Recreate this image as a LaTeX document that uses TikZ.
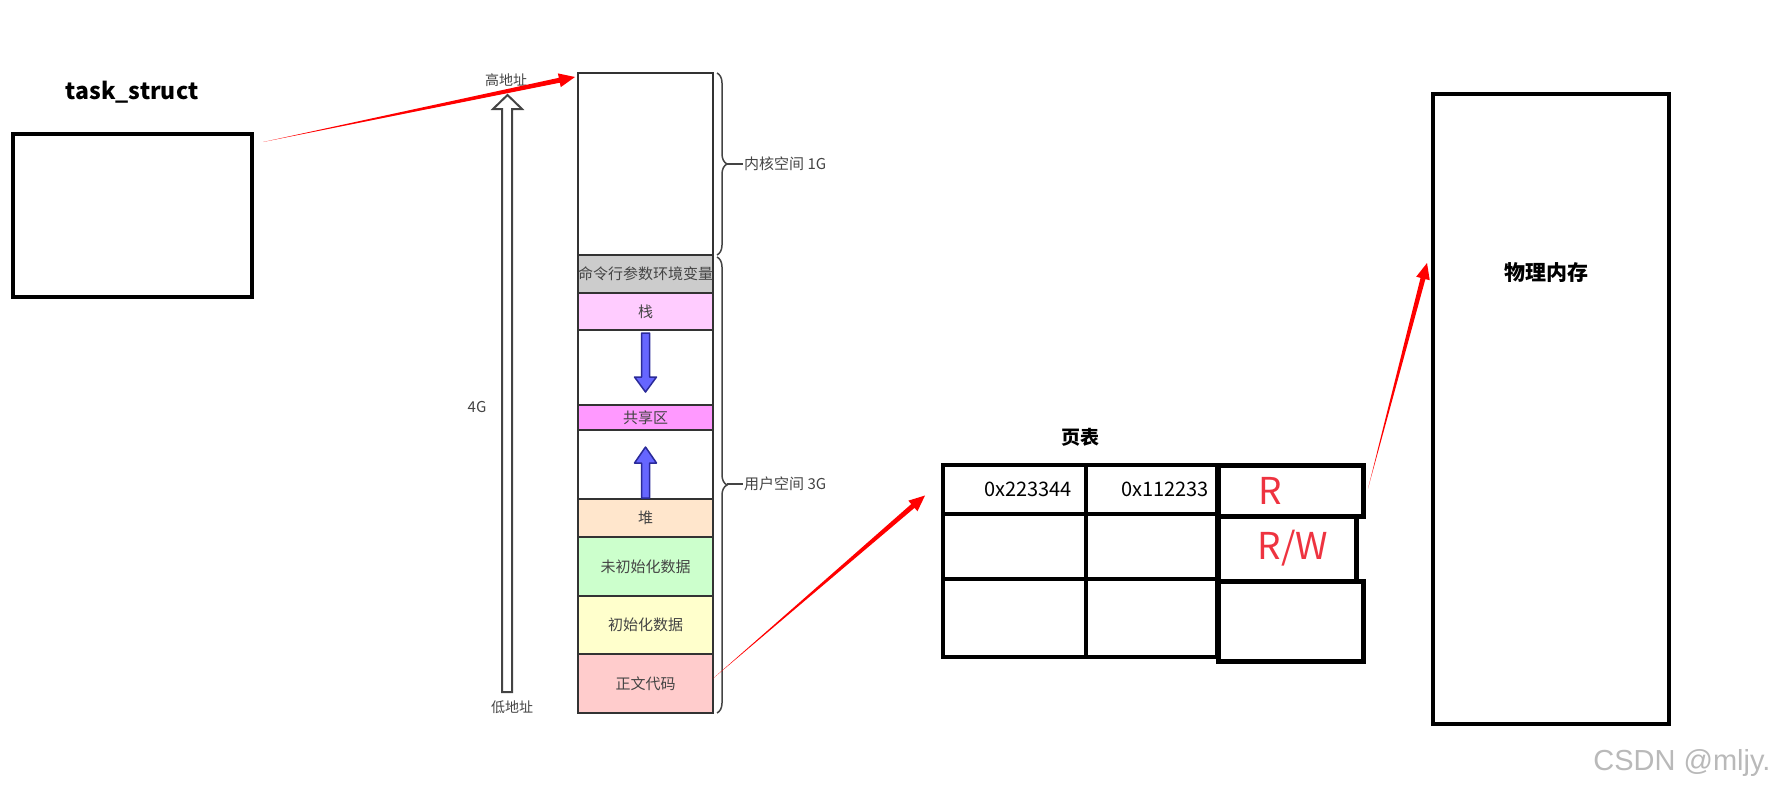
\documentclass[tikz,border=0pt]{standalone}
\usepackage{fontspec}
\setmainfont{Noto Sans CJK SC}
\newfontfamily\markfont{Liberation Sans}
\usetikzlibrary{calc,positioning,decorations.pathreplacing}

\definecolor{segline}{HTML}{333333}
\definecolor{segtext}{HTML}{444444}
\definecolor{argsgray}{HTML}{CCCCCC}
\definecolor{stackpink}{HTML}{FFCCFF}
\definecolor{sharedpink}{HTML}{FF99FF}
\definecolor{heappeach}{HTML}{FFE6CC}
\definecolor{bssgreen}{HTML}{CCFFCC}
\definecolor{datayellow}{HTML}{FFFFCC}
\definecolor{codered}{HTML}{FFCCCC}
\definecolor{growblue}{HTML}{6666FF}
\definecolor{growedge}{HTML}{2A2A99}
\definecolor{linkred}{HTML}{FF0000}
\definecolor{flagred}{HTML}{EE3340}

% tapered red pointer: thin at #1, head at #2
\newcommand{\linkarrow}[2]{%
  \fill[linkred] (#1) -- ($(#2)!16pt!(#1)!2.5pt!90:(#2)$) -- ($(#2)!16pt!(#1)!7pt!90:(#2)$) -- (#2)
    -- ($(#2)!16pt!(#1)!7pt!-90:(#2)$) -- ($(#2)!16pt!(#1)!2.5pt!-90:(#2)$) -- cycle;}

\begin{document}
\begin{tikzpicture}[x=1pt,y=-1pt,
    seg/.style={draw=segline, line width=2pt, minimum width=135pt, inner sep=0pt, outer sep=0pt,
      text=segtext, font=\fontsize{15}{15}\selectfont},
    cell/.style={draw=black, line width=4pt, inner sep=0pt, outer sep=0pt, anchor=north west},
    box/.style={draw=black, line width=4.5pt, outer sep=0pt, anchor=north west},
    heading/.style={font=\bfseries\fontsize{#1}{#1}\selectfont},
    note/.style={text=segtext, inner sep=1pt, font=\fontsize{15}{15}\selectfont},
    bracket/.style={decorate, decoration={brace, amplitude=10pt}, draw=segtext, line width=1.5pt},
    growarrow/.style={fill=growblue, draw=growedge, line width=1.5pt, line join=round}]
  \useasboundingbox (0,0) rectangle (1779,793);

  \node[box, minimum width=239pt, minimum height=163pt] (task) at (13,134) {};
  \node[heading=23] (taskname) at (132,92) {task\_struct};

  \draw[draw=segtext, fill=white, line width=2pt] (502,692) -- (502,109) -- (493,109) -- (507.5,95)
    -- (522,109) -- (512,109) -- (512,692) -- cycle;
  \node[note, font=\fontsize{14}{14}\selectfont] (high) at (506,80) {高地址};
  \node[note, font=\fontsize{14}{14}\selectfont] (low) at (512,707) {低地址};
  \node[note] (span) at (477,407) {4G};

  \node[seg, anchor=north west, minimum height=182pt] (kernel) at (578,73) {};
  \node[seg, fill=argsgray, minimum height=38pt, below=0pt of kernel] (cmdargs) {命令行参数环境变量};
  \node[seg, fill=stackpink, minimum height=37pt, below=0pt of cmdargs] (stack) {栈};
  \node[seg, minimum height=75pt, below=0pt of stack] (gapdown) {};
  \node[seg, fill=sharedpink, minimum height=25pt, below=0pt of gapdown] (shared) {共享区};
  \node[seg, minimum height=69pt, below=0pt of shared] (gapup) {};
  \node[seg, fill=heappeach, minimum height=38pt, below=0pt of gapup] (heap) {堆};
  \node[seg, fill=bssgreen, minimum height=59pt, below=0pt of heap] (bss) {未初始化数据};
  \node[seg, fill=datayellow, minimum height=58pt, below=0pt of bss] (data) {初始化数据};
  \node[seg, fill=codered, minimum height=59pt, below=0pt of data] (code) {正文代码};

  \draw[growarrow] ($(stack.south)+(-4,3)$) -- ++(8,0) -- ++(0,44) -- ++(7,0) -- ++(-11,15)
    -- ++(-11,-15) -- ++(7,0) -- cycle;
  \draw[growarrow] ($(heap.north)+(-4,-1)$) -- ++(8,0) -- ++(0,-35) -- ++(7,0) -- ++(-11,-16)
    -- ++(-11,16) -- ++(7,0) -- cycle;

  \draw[bracket] ($(kernel.north east)+(4,0)$) -- ($(kernel.south east)+(4,0)$);
  \draw[bracket] ($(cmdargs.north east)+(4,2)$) -- ($(code.south east)+(4,0)$);
  \coordinate (ktip) at ($(kernel.east)+(14,0)$);
  \coordinate (utip) at ($(cmdargs.north east)!0.5!(code.south east)+(14,0)$);
  \node[note, anchor=west] (kspace) at ($(ktip)+(16,0)$) {内核空间 1G};
  \node[note, anchor=west] (uspace) at ($(utip)+(16,0)$) {用户空间 3G};
  \draw[segtext, line width=2pt] (ktip) -- (kspace.west);
  \draw[segtext, line width=2pt] (utip) -- (uspace.west);

  \node[heading=19] (tablename) at (1080,437) {页表};
  \node[cell, minimum width=143pt, minimum height=49pt, text width=115pt, inner xsep=14pt, align=right,
    font=\fontsize{20}{20}\selectfont] (v1) at (943,465) {0x223344};
  \node[cell, minimum width=131pt, minimum height=49pt, text width=115pt, inner xsep=8pt, align=right,
    font=\fontsize{20}{20}\selectfont] (p1) at (1086,465) {0x112233};
  \node[cell, minimum width=143pt, minimum height=65pt] (v2) at (943,514) {};
  \node[cell, minimum width=131pt, minimum height=65pt] (p2) at (1086,514) {};
  \node[cell, minimum width=143pt, minimum height=78pt] (v3) at (943,579) {};
  \node[cell, minimum width=131pt, minimum height=78pt] (p3) at (1086,579) {};

  \node[cell, line width=5pt, minimum width=145pt, minimum height=51pt, text width=65pt, inner xsep=40pt,
    align=left, text=flagred, font=\fontsize{37}{37}\selectfont] (f1) at (1218,465) {R};
  \node[cell, line width=5pt, minimum width=145pt, minimum height=80pt] (f3) at (1218,581) {};
  \node[cell, line width=5pt, minimum width=138pt, minimum height=65pt, text width=82pt, inner xsep=28pt,
    align=right, text=flagred, font=\fontsize{37}{37}\selectfont] (f2) at (1218,516) {R/W};

  \node[box, minimum width=236pt, minimum height=630pt] (phys) at (1433,94) {};
  \node[heading=21] (physname) at (1546,273) {物理内存};

  \coordinate (ptrFrom) at ($(task.north east)+(11,8)$);
  \coordinate (ptrTo) at ($(kernel.north west)+(-3,4)$);
  \coordinate (mapFrom) at ($(code.east)+(0,-5)$);
  \coordinate (mapTo) at ($(v1.west)+(-18,6)$);
  \coordinate (frameFrom) at ($(f1.east)+(5,-2)$);
  \coordinate (frameTo) at ($(phys.north west)+(-6,169)$);
  \linkarrow{ptrFrom}{ptrTo}
  \linkarrow{mapFrom}{mapTo}
  \linkarrow{frameFrom}{frameTo}

  \node[anchor=east, text=gray!55, font=\markfont\fontsize{29}{29}\selectfont] (mark) at (1774,763) {CSDN @mljy.};
\end{tikzpicture}
\end{document}
